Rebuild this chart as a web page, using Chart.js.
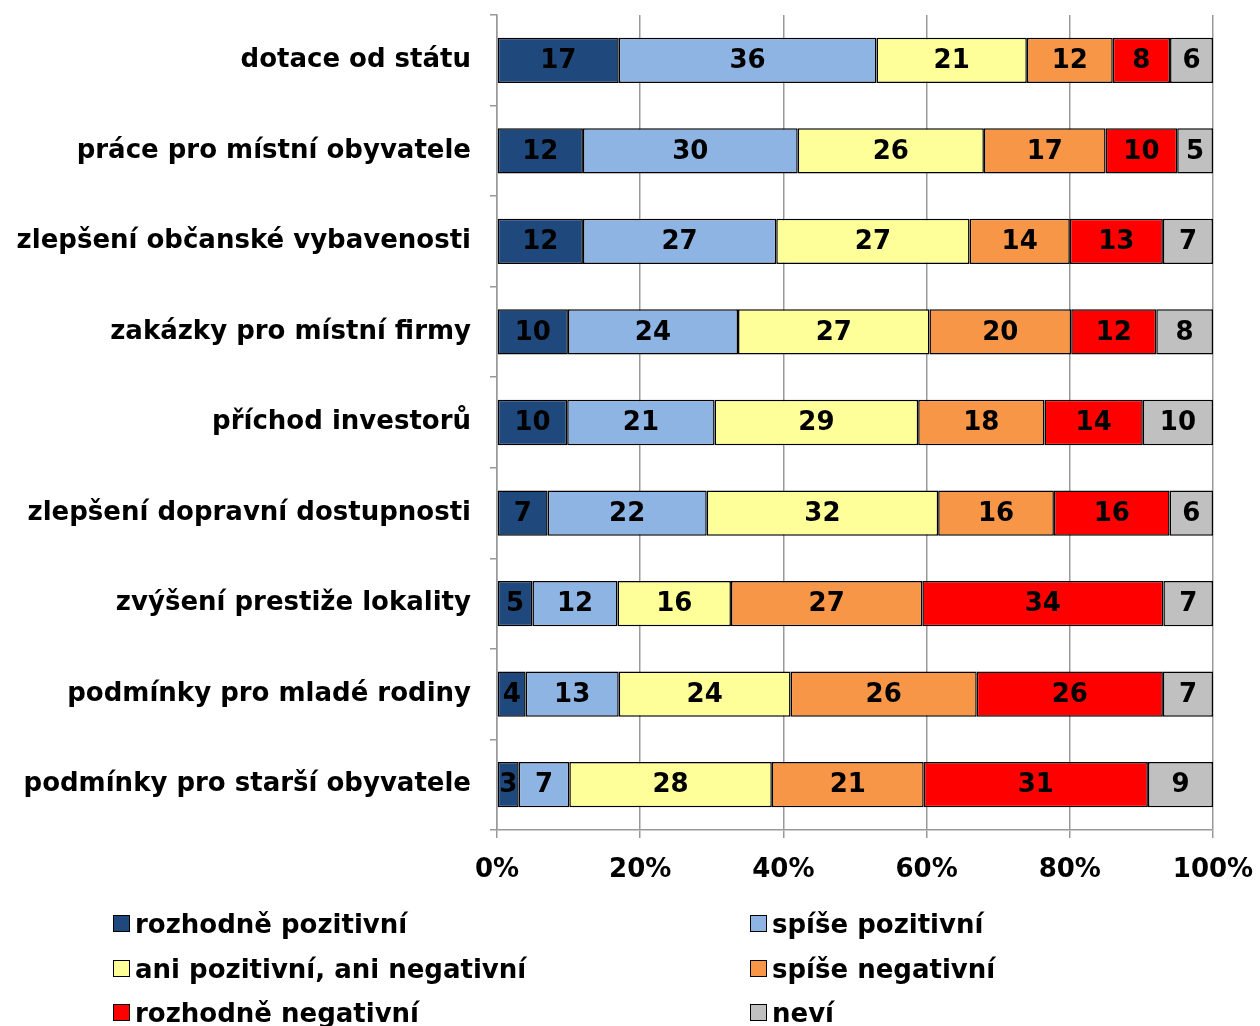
<!DOCTYPE html>
<html lang="cs">
  <head>
    <meta charset="UTF-8" />
    <title>Hodnocení přínosů</title>
    <script src="https://cdn.jsdelivr.net/npm/chart.js"></script>
    <style>
      body { margin: 0; background: #fff; font-family: "DejaVu Sans", Verdana, sans-serif; }
      .wrap { position: relative; width: 1260px; height: 1026px; }
      .chartbox { position: absolute; left: 0; top: 0; width: 1260px; height: 880px; }
      .legend { position: absolute; left: 0; top: 0; width: 1260px; height: 1026px; pointer-events: none; }
      .item { position: absolute; font-weight: bold; font-size: 26px; line-height: 30px; color: #000; white-space: nowrap; }
      .item i { display: inline-block; width: 15px; height: 15px; border: 1.5px solid #000; margin-right: 5px; vertical-align: 1px; }
    </style>
  </head>
  <body>
    <div class="wrap">
      <div class="chartbox"><canvas id="myChart"></canvas></div>
      <div class="legend" id="legend"></div>
    </div>
    <script>
      var categories = [
        "dotace od státu",
        "práce pro místní obyvatele",
        "zlepšení občanské vybavenosti",
        "zakázky pro místní firmy",
        "příchod investorů",
        "zlepšení dopravní dostupnosti",
        "zvýšení prestiže lokality",
        "podmínky pro mladé rodiny",
        "podmínky pro starší obyvatele"
      ];
      var seriesNames = [
        "rozhodně pozitivní",
        "spíše pozitivní",
        "ani pozitivní, ani negativní",
        "spíše negativní",
        "rozhodně negativní",
        "neví"
      ];
      var rozhodnePozitivni = [17, 12, 12, 10, 10, 7, 5, 4, 3];
      var spisePozitivni = [36, 30, 27, 24, 21, 22, 12, 13, 7];
      var aniAni = [21, 26, 27, 27, 29, 32, 16, 24, 28];
      var spiseNegativni = [12, 17, 14, 20, 18, 16, 27, 26, 21];
      var rozhodneNegativni = [8, 10, 13, 12, 14, 16, 34, 26, 31];
      var nevi = [6, 5, 7, 8, 10, 6, 7, 7, 9];
      var xTicks = [0, 20, 40, 60, 80, 100];

      var colors = ["#1F497D", "#8EB4E3", "#FFFF99", "#F79646", "#FF0000", "#C0C0C0"];
      var series = [rozhodnePozitivni, spisePozitivni, aniAni, spiseNegativni, rozhodneNegativni, nevi];

      // součty řádků pro přepočet na 100 %
      var totals = categories.map(function (c, i) {
        return series.reduce(function (s, arr) { return s + arr[i]; }, 0);
      });

      var datasets = series.map(function (arr, k) {
        return {
          label: seriesNames[k],
          raw: arr,
          data: arr.map(function (v, i) { return (v / totals[i]) * 100; }),
          backgroundColor: colors[k],
          borderColor: "#000",
          borderWidth: 1.5,
          borderSkipped: false,
          barPercentage: 1,
          categoryPercentage: 0.5
        };
      });

      var FONT = { family: "'DejaVu Sans', Verdana, sans-serif", size: 26, weight: "bold" };

      // popisky hodnot uprostřed segmentů
      var valueLabels = {
        id: "valueLabels",
        afterDatasetsDraw: function (chart) {
          var ctx = chart.ctx;
          ctx.save();
          ctx.font = "bold 26px 'DejaVu Sans', Verdana, sans-serif";
          ctx.fillStyle = "#000";
          ctx.textAlign = "center";
          ctx.textBaseline = "middle";
          chart.data.datasets.forEach(function (ds, k) {
            chart.getDatasetMeta(k).data.forEach(function (bar, i) {
              var cx = (bar.x + bar.base) / 2;
              ctx.fillText(String(ds.raw[i]), cx, bar.y + 1);
            });
          });
          ctx.restore();
        }
      };

      new Chart(document.getElementById("myChart"), {
        type: "bar",
        data: { labels: categories, datasets: datasets },
        plugins: [valueLabels],
        options: {
          indexAxis: "y",
          responsive: true,
          maintainAspectRatio: false,
          animation: false,
          layout: { padding: { top: 15, right: 47, left: 0, bottom: 0 } },
          plugins: { legend: { display: false }, tooltip: { enabled: false } },
          scales: {
            x: {
              stacked: true,
              min: 0,
              max: 100,
              afterBuildTicks: function (scale) {
                scale.ticks = xTicks.map(function (v) { return { value: v }; });
              },
              afterFit: function (scale) {
                scale.height = 50;
                scale.paddingLeft = 0;
                scale.paddingRight = 0;
              },
              ticks: {
                color: "#000",
                font: FONT,
                padding: 17,
                maxRotation: 0,
                callback: function (v) { return v + "%"; }
              },
              grid: { color: "#999", lineWidth: 1.5, tickLength: 8, drawTicks: true },
              border: { color: "#999", width: 1.5 }
            },
            y: {
              stacked: true,
              afterFit: function (scale) {
                scale.width = 497;
                scale.paddingTop = 0;
                scale.paddingBottom = 0;
              },
              ticks: { color: "#000", font: FONT, padding: 19 },
              grid: { offset: true, drawOnChartArea: false, color: "#999", lineWidth: 1.5, tickLength: 7 },
              border: { color: "#999", width: 1.5 }
            }
          }
        }
      });

      // legenda ve dvou sloupcích
      var legend = document.getElementById("legend");
      var lx = [113, 750];
      var ly = [909, 954, 998];
      seriesNames.forEach(function (name, k) {
        var el = document.createElement("div");
        el.className = "item";
        el.style.left = lx[k % 2] + "px";
        el.style.top = ly[Math.floor(k / 2)] + "px";
        el.innerHTML = '<i style="background:' + colors[k] + '"></i>' + name;
        legend.appendChild(el);
      });
    </script>
  </body>
</html>
